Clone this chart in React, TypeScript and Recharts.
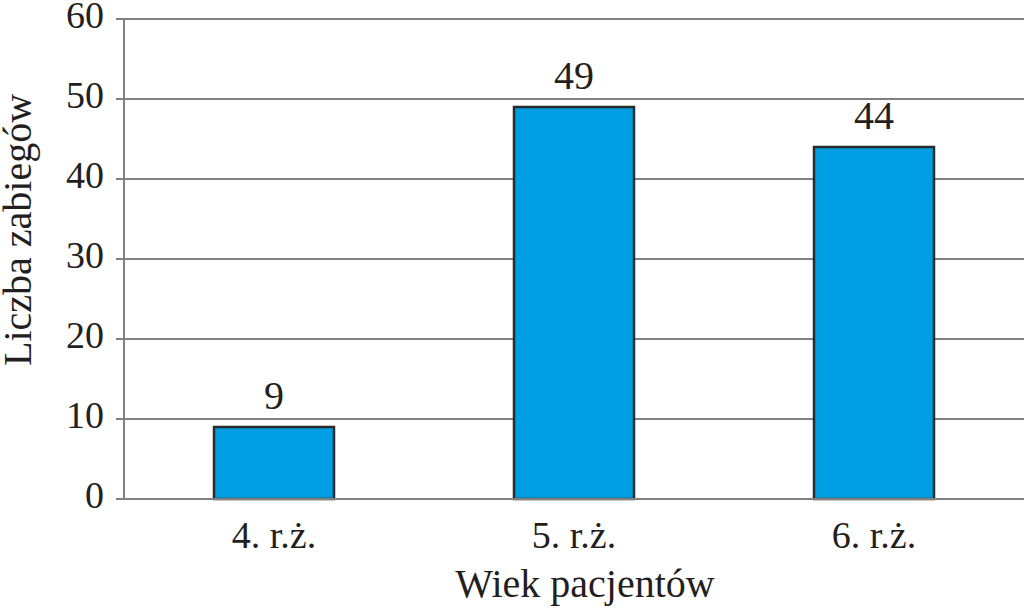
import React from "react";
import { BarChart, Bar, XAxis, YAxis, CartesianGrid, LabelList } from "recharts";

const categories = ["4. r.ż.", "5. r.ż.", "6. r.ż."];
const values = [9, 49, 44];
const yTicks = [0, 10, 20, 30, 40, 50, 60];

const data = categories.map((name, i) => ({ name, value: values[i] }));

const font = "'Liberation Serif', 'DejaVu Serif', serif";
const textColor = "#231f20";
const gridColor = "#808080";

const YTick = (props: any) => {
  const { x, y, payload } = props;
  return (
    <text x={x} y={y + 9} textAnchor="end" fill={textColor} fontSize={38} fontFamily={font}>
      {payload.value}
    </text>
  );
};

const XTick = (props: any) => {
  const { x, y, payload } = props;
  return (
    <text x={x} y={y + 49} textAnchor="middle" fill={textColor} fontSize={38} fontFamily={font}>
      {payload.value}
    </text>
  );
};

// value above each bar, serif like the rest
const BarValue = (props: any) => {
  const { x, y, width, value } = props;
  return (
    <text
      x={Number(x) + Number(width) / 2}
      y={Number(y) - 18}
      textAnchor="middle"
      fill={textColor}
      fontSize={40}
      fontFamily={font}
    >
      {value}
    </text>
  );
};

function App() {
  return (
    <div style={{ position: "absolute", left: 0, top: 0, background: "#fff" }}>
      <BarChart
        width={1024}
        height={615}
        data={data}
        margin={{ top: 19, right: 0, left: 0, bottom: 0 }}
        barCategoryGap="30%"
      >
        <CartesianGrid horizontal vertical={false} stroke={gridColor} strokeWidth={2} />
        <XAxis
          dataKey="name"
          height={116}
          tickLine={false}
          tickSize={0}
          tickMargin={0}
          axisLine={{ stroke: gridColor, strokeWidth: 2 }}
          tick={<XTick />}
          label={{
            content: () => (
              <text x={585} y={597} textAnchor="middle" fill={textColor} fontSize={40} fontFamily={font}>
                Wiek pacjentów
              </text>
            ),
          }}
        />
        <YAxis
          width={124}
          domain={[0, 60]}
          ticks={yTicks}
          interval={0}
          tickSize={8}
          tickMargin={12}
          tickLine={{ stroke: gridColor, strokeWidth: 2 }}
          axisLine={{ stroke: gridColor, strokeWidth: 2 }}
          tick={<YTick />}
          label={{
            content: () => (
              <text
                x={31}
                y={230}
                transform="rotate(-90 31 230)"
                textAnchor="middle"
                fill={textColor}
                fontSize={40}
                fontFamily={font}
              >
                Liczba zabiegów
              </text>
            ),
          }}
        />
        <Bar
          dataKey="value"
          fill="#009fe3"
          stroke="#2b2b2b"
          strokeWidth={2.5}
          isAnimationActive={false}
        >
          <LabelList dataKey="value" content={<BarValue />} />
        </Bar>
      </BarChart>
    </div>
  );
}

export default App;
